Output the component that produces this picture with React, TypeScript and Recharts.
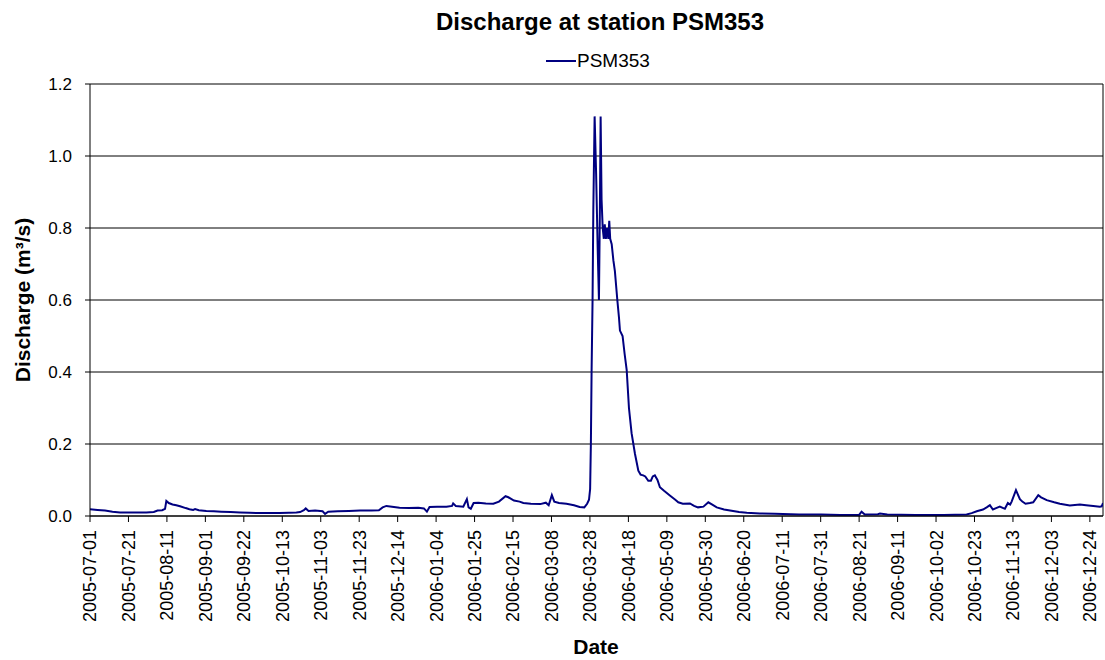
import React from "react";
import { LineChart, Line, XAxis, YAxis, CartesianGrid, ReferenceLine } from "recharts";

// x position in days from the first tick (ticks are every 20.5 days)
const days = [
  0, 4, 8, 12, 16, 20, 25, 30, 34, 36, 38.5, 40, 40.7, 42, 44, 46, 48, 51, 53, 55, 56, 58, 62, 66, 70, 75, 80, 85, 90, 96,
  101, 106, 110, 112, 114, 115, 116.5, 120, 124, 125.3, 127, 132, 138, 144, 150, 154, 156, 158, 161, 165, 170, 175, 178,
  179.6, 181, 185, 190, 193, 193.6, 195, 199, 200.9, 201.8, 203, 204.5, 207, 211, 215, 218, 221.5, 223, 226, 229, 231,
  235, 240, 243, 244.5, 246.2, 247.5, 250, 254, 258, 261, 263.5, 265, 266, 266.6, 267, 267.4, 267.9, 268.3, 269, 269.8,
  270.6, 271.3, 271.8, 272.2, 272.7, 273.3, 273.9, 274.4, 275, 275.6, 276.3, 276.8, 277.3, 278.1, 279, 279.8, 281.1, 282,
  282.5, 283.9, 285, 286.1, 287.3, 288.7, 290.5, 292.3, 293.5, 294.9, 296, 297.6, 299, 300, 301.1, 302.5, 303.8, 306,
  309.1, 312, 313.6, 316, 319.8, 322, 324.1, 327, 329.6, 331.5, 334.1, 338, 341.2, 346, 350.1, 357.1, 365, 378, 390, 400,
  410, 411.3, 413, 420, 421.1, 425, 440, 455, 467.3, 470, 472.7, 476, 478, 479.7, 481.3, 483, 485, 487.7, 489.3, 490.5,
  491.3, 493.6, 495.7, 497, 498.7, 501, 502.8, 505.5, 507, 510, 514, 517, 522.3, 527.7, 531, 534.8, 538.3, 539.3, 540,
];

const discharge = [
  0.019, 0.017, 0.015, 0.012, 0.01, 0.01, 0.01, 0.01, 0.011, 0.015, 0.016, 0.02, 0.042, 0.036, 0.032, 0.03, 0.027, 0.022,
  0.019, 0.017, 0.019, 0.016, 0.014, 0.013, 0.012, 0.011, 0.01, 0.009, 0.008, 0.008, 0.008, 0.009, 0.01, 0.011, 0.016,
  0.021, 0.014, 0.015, 0.013, 0.006, 0.012, 0.013, 0.014, 0.015, 0.015, 0.016, 0.024, 0.028, 0.026, 0.023, 0.022, 0.023,
  0.021, 0.012, 0.025, 0.026, 0.026, 0.028, 0.035, 0.028, 0.026, 0.047, 0.024, 0.02, 0.036, 0.037, 0.035, 0.034, 0.04,
  0.055, 0.052, 0.043, 0.04, 0.036, 0.034, 0.033, 0.037, 0.03, 0.058, 0.04, 0.036, 0.034, 0.03, 0.025, 0.024, 0.034,
  0.045, 0.075, 0.2, 0.41, 0.6, 0.85, 1.11, 0.95, 0.75, 0.6, 0.85, 1.11, 0.88, 0.8, 0.77, 0.81, 0.77, 0.8, 0.77, 0.82,
  0.77, 0.755, 0.71, 0.68, 0.6, 0.55, 0.515, 0.5, 0.45, 0.405, 0.3, 0.23, 0.173, 0.126, 0.115, 0.113, 0.11, 0.098, 0.098,
  0.11, 0.113, 0.1, 0.08, 0.07, 0.057, 0.045, 0.038, 0.034, 0.035, 0.028, 0.024, 0.026, 0.038, 0.032, 0.024, 0.018,
  0.015, 0.011, 0.009, 0.007, 0.006, 0.004, 0.004, 0.003, 0.003, 0.012, 0.004, 0.005, 0.007, 0.004, 0.003, 0.003, 0.004,
  0.008, 0.013, 0.018, 0.024, 0.03, 0.018, 0.022, 0.026, 0.02, 0.036, 0.032, 0.04, 0.072, 0.047, 0.04, 0.034, 0.036,
  0.038, 0.058, 0.052, 0.044, 0.038, 0.034, 0.029, 0.032, 0.03, 0.028, 0.026, 0.027, 0.036,
];

const dateLabels = [
  "2005-07-01", "2005-07-21", "2005-08-11", "2005-09-01", "2005-09-22", "2005-10-13", "2005-11-03", "2005-11-23",
  "2005-12-14", "2006-01-04", "2006-01-25", "2006-02-15", "2006-03-08", "2006-03-28", "2006-04-18", "2006-05-09",
  "2006-05-30", "2006-06-20", "2006-07-11", "2006-07-31", "2006-08-21", "2006-09-11", "2006-10-02", "2006-10-23",
  "2006-11-13", "2006-12-03", "2006-12-24",
];

const yTicks = [0, 0.2, 0.4, 0.6, 0.8, 1.0, 1.2];

const data = days.map((d, i) => ({ day: d, q: discharge[i] }));
const xTicks = dateLabels.map((_, i) => i * 20.5);

const FONT = "Arial, 'Liberation Sans', sans-serif";

function DateTick(props: any) {
  const { x, y, payload } = props;
  const label = dateLabels[Math.round(payload.value / 20.5)];
  return (
    <text
      x={x}
      y={y}
      transform={`rotate(-90 ${x} ${y})`}
      textAnchor="end"
      dy="0.36em"
      fontSize={18}
      fontFamily={FONT}
      fill="#000"
    >
      {label}
    </text>
  );
}

export default function App() {
  return (
    <div style={{ position: "relative", width: 1105, height: 660, fontFamily: FONT, background: "#fff" }}>
      <style>{"body{margin:0}"}</style>
      <LineChart width={1105} height={660} data={data} margin={{ top: 84, right: 2, left: 30, bottom: 0 }}>
        <CartesianGrid vertical={false} stroke="#000" strokeWidth={1} />
        <XAxis
          dataKey="day"
          type="number"
          domain={[0, 540]}
          ticks={xTicks}
          interval={0}
          height={144}
          tickSize={6}
          tickMargin={8}
          tick={DateTick}
          stroke="#000"
          allowDataOverflow
        />
        <YAxis
          domain={[0, 1.2]}
          ticks={yTicks}
          width={60}
          tickSize={5}
          tickMargin={13}
          tickFormatter={(v: number) => v.toFixed(1)}
          tick={{ fontSize: 17, fill: "#000", fontFamily: FONT }}
          stroke="#000"
          allowDataOverflow
        />
        <ReferenceLine x={540} stroke="#000" strokeWidth={1} />
        <Line
          type="linear"
          dataKey="q"
          stroke="#000080"
          strokeWidth={2}
          dot={false}
          isAnimationActive={false}
        />
      </LineChart>
      <svg
        width={1105}
        height={660}
        style={{ position: "absolute", left: 0, top: 0, pointerEvents: "none" }}
        fontFamily={FONT}
      >
        <text x={600} y={30} textAnchor="middle" fontSize={24} fontWeight="bold" fill="#000">
          Discharge at station PSM353
        </text>
        <line x1={546} x2={576} y1={61} y2={61} stroke="#000080" strokeWidth={2} />
        <text x={577} y={67} fontSize={19} fill="#000">
          PSM353
        </text>
        <text
          x={0}
          y={0}
          transform="translate(30 300) rotate(-90)"
          textAnchor="middle"
          fontSize={21}
          fontWeight="bold"
          fill="#000"
        >
          Discharge (m³/s)
        </text>
        <text x={596} y={654} textAnchor="middle" fontSize={21} fontWeight="bold" fill="#000">
          Date
        </text>
      </svg>
    </div>
  );
}
